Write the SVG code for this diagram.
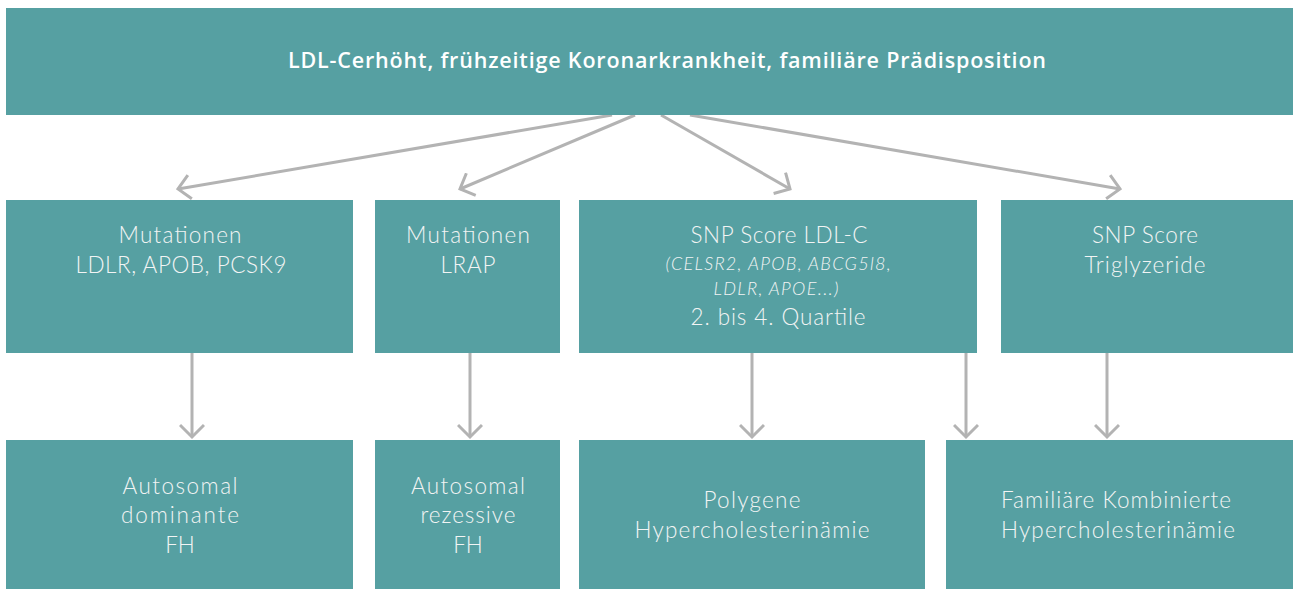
<svg xmlns="http://www.w3.org/2000/svg" width="1293" height="589" viewBox="0 0 1293 589">
<defs>
<style>
.box{fill:#56a0a2}
.t{font-family:Lato,"Open Sans","Liberation Sans",sans-serif;font-weight:300;font-size:22.5px;fill:#f2f4f4;text-anchor:middle}
.it{font-style:italic;font-size:18px}
.title{font-family:"Open Sans",Lato,"Liberation Sans",sans-serif;font-weight:600;font-size:21.5px;fill:#ffffff;text-anchor:middle}
.c{stroke:#b3b3b3;stroke-width:3;fill:none;marker-end:url(#ah)}
</style>
<marker id="ah" viewBox="-14 -13 28 26" markerWidth="28" markerHeight="26" refX="0" refY="0" orient="auto" markerUnits="userSpaceOnUse">
<path d="M-12,-12 L0,0 L-12,12" fill="none" stroke="#b3b3b3" stroke-width="3"/>
</marker>
</defs>
<g id="connectors">
<line class="c" x1="612" y1="115" x2="178" y2="189"/>
<line class="c" x1="635" y1="115" x2="460" y2="189"/>
<line class="c" x1="661" y1="115" x2="790" y2="189"/>
<line class="c" x1="690" y1="115" x2="1120" y2="189"/>
<line class="c" x1="192" y1="353" x2="192" y2="437"/>
<line class="c" x1="470" y1="353" x2="470" y2="437"/>
<line class="c" x1="752" y1="353" x2="752" y2="437"/>
<line class="c" x1="966" y1="353" x2="966" y2="437"/>
<line class="c" x1="1107" y1="353" x2="1107" y2="437"/>
</g>
<g id="top">
<rect class="box" x="6" y="8" width="1287" height="107"/>
<text class="title" x="667" y="68" textLength="758" lengthAdjust="spacing">LDL-Cerhöht, frühzeitige Koronarkrankheit, familiäre Prädisposition</text>
</g>
<g id="m1">
<rect class="box" x="6" y="200" width="347" height="153"/>
<text class="t" x="180" y="243" textLength="123" lengthAdjust="spacing">Mutationen</text>
<text class="t" x="181" y="273" textLength="211" lengthAdjust="spacing">LDLR, APOB, PCSK9</text>
</g>
<g id="m2">
<rect class="box" x="375" y="200" width="185" height="153"/>
<text class="t" x="468" y="243" textLength="124" lengthAdjust="spacing">Mutationen</text>
<text class="t" x="468" y="273" textLength="55" lengthAdjust="spacing">LRAP</text>
</g>
<g id="m3">
<rect class="box" x="579" y="200" width="398" height="153"/>
<text class="t" x="779" y="243" textLength="177" lengthAdjust="spacing">SNP Score LDL-C</text>
<text class="t it" x="778" y="270" textLength="225" lengthAdjust="spacing">(CELSR2,  APOB, ABCG5l8,</text>
<text class="t it" x="776" y="295" textLength="125" lengthAdjust="spacing">LDLR, APOE...)</text>
<text class="t" x="778" y="325" textLength="175" lengthAdjust="spacing">2. bis 4. Quartile</text>
</g>
<g id="m4">
<rect class="box" x="1001" y="200" width="292" height="153"/>
<text class="t" x="1145" y="243" textLength="106" lengthAdjust="spacing">SNP Score</text>
<text class="t" x="1145" y="273" textLength="121" lengthAdjust="spacing">Triglyzeride</text>
</g>
<g id="b1">
<rect class="box" x="6" y="440" width="347" height="149"/>
<text class="t" x="180" y="494" textLength="115" lengthAdjust="spacing">Autosomal</text>
<text class="t" x="180" y="523" textLength="118" lengthAdjust="spacing">dominante</text>
<text class="t" x="180" y="553">FH</text>
</g>
<g id="b2">
<rect class="box" x="375" y="440" width="185" height="149"/>
<text class="t" x="468" y="494" textLength="114" lengthAdjust="spacing">Autosomal</text>
<text class="t" x="468" y="523" textLength="95" lengthAdjust="spacing">rezessive</text>
<text class="t" x="468" y="553">FH</text>
</g>
<g id="b3">
<rect class="box" x="579" y="440" width="346" height="149"/>
<text class="t" x="752" y="508" textLength="97" lengthAdjust="spacing">Polygene</text>
<text class="t" x="752" y="538" textLength="235" lengthAdjust="spacing">Hypercholesterinämie</text>
</g>
<g id="b4">
<rect class="box" x="946" y="440" width="347" height="149"/>
<text class="t" x="1116" y="508" textLength="230" lengthAdjust="spacing">Familiäre Kombinierte</text>
<text class="t" x="1118" y="538" textLength="234" lengthAdjust="spacing">Hypercholesterinämie</text>
</g>
</svg>
